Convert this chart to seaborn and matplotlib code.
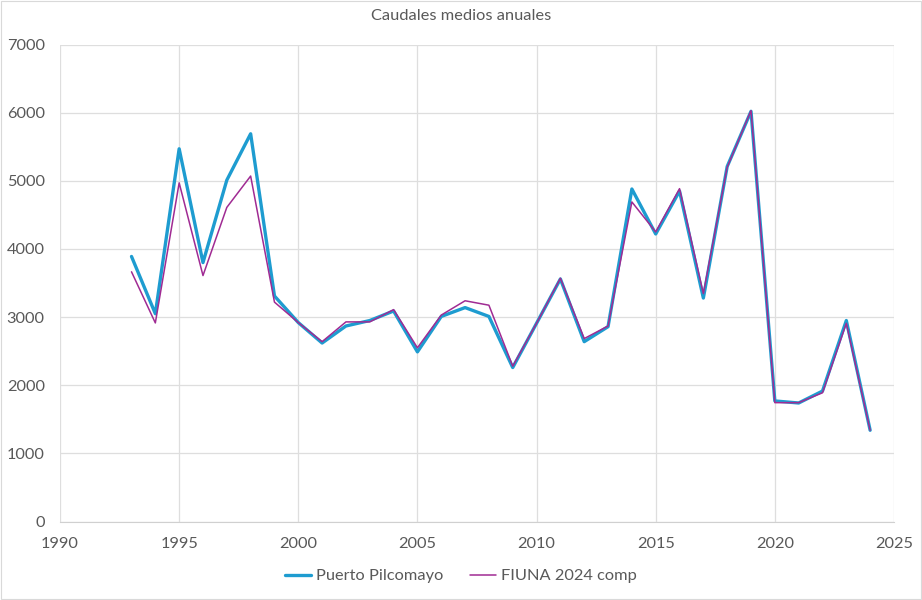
import matplotlib
matplotlib.use("Agg")
import matplotlib.pyplot as plt
from matplotlib.lines import Line2D
import pandas as pd
import seaborn as sns

years = list(range(1993, 2025))

puerto_pilcomayo = [
    3890, 3050, 5470, 3800, 5010, 5690, 3310, 2920, 2620, 2870,
    2950, 3090, 2490, 3010, 3140, 3010, 2260, 2910, 3560, 2640,
    2860, 4880, 4220, 4850, 3280, 5210, 6020, 1770, 1740, 1915,
    2950, 1340,
]

fiuna_2024 = [
    3665, 2915, 4970, 3610, 4610, 5070, 3220, 2920, 2640, 2930,
    2930, 3110, 2550, 3030, 3240, 3175, 2280, 2910, 3570, 2685,
    2870, 4690, 4250, 4885, 3345, 5200, 6030, 1745, 1745, 1890,
    2910, 1340,
]

series_names = ["Puerto Pilcomayo", "FIUNA 2024 comp"]
x_ticks = [1990, 1995, 2000, 2005, 2010, 2015, 2020, 2025]
y_ticks = [0, 1000, 2000, 3000, 4000, 5000, 6000, 7000]

df = pd.DataFrame({
    "year": years * 2,
    "caudal": puerto_pilcomayo + fiuna_2024,
    "serie": [series_names[0]] * len(years) + [series_names[1]] * len(years),
})

sns.set_style("white")
plt.rcParams["font.family"] = ["Lato", "DejaVu Sans"]
text_color = "#595959"
blue, purple = "#1E9CD0", "#A02B93"

fig = plt.figure(figsize=(9.22, 6), dpi=100)
ax = fig.add_axes([0.0651, 0.1307, 0.9045, 0.7951])

sns.lineplot(
    data=df, x="year", y="caudal", hue="serie", size="serie",
    hue_order=series_names,
    palette={series_names[0]: blue, series_names[1]: purple},
    sizes={series_names[0]: 2.4, series_names[1]: 1.1},
    ax=ax, legend=False,
)

ax.set_xlim(1990, 2025)
ax.set_ylim(0, 7000)
ax.set_xticks(x_ticks)
ax.set_yticks(y_ticks)
ax.grid(True, color="#DEDEDE", linewidth=0.9)
ax.set_axisbelow(True)
for side in ["top", "right", "left"]:
    ax.spines[side].set_visible(False)
ax.spines["bottom"].set_color("#D0D0D0")
ax.tick_params(axis="both", length=0, labelsize=11.8, labelcolor=text_color)
ax.tick_params(axis="x", pad=11)
ax.tick_params(axis="y", pad=11)
ax.set_xlabel("")
ax.set_ylabel("")

fig.text(0.5, 0.974, "Caudales medios anuales", ha="center", va="center",
         fontsize=11.8, color=text_color)

handles = [
    Line2D([], [], color=blue, linewidth=2.4),
    Line2D([], [], color=purple, linewidth=1.1),
]
fig.legend(handles, series_names, loc="center", bbox_to_anchor=(0.5, 0.04),
           ncol=2, frameon=False, fontsize=11.8, labelcolor=text_color,
           handlelength=1.6, handletextpad=0.3, columnspacing=1.6)

# light frame around the whole chart
fig.patches.append(plt.Rectangle((0.001, 0.002), 0.998, 0.996, transform=fig.transFigure,
                                 fill=False, edgecolor="#D9D9D9", linewidth=0.8))

fig.savefig("out.png", dpi=100)
